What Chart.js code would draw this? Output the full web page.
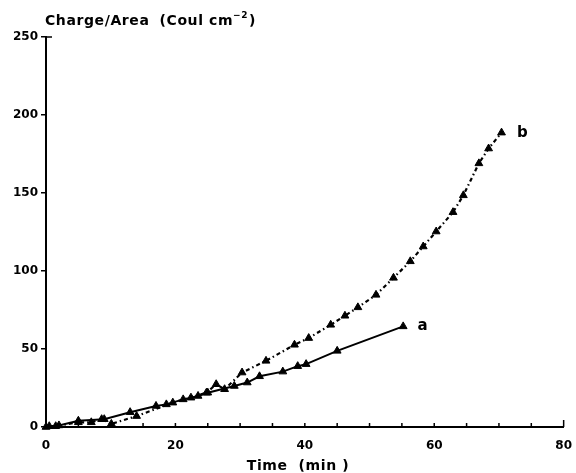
<!DOCTYPE html>
<html><head><meta charset="utf-8">
<script src="https://cdn.jsdelivr.net/npm/chart.js@4.4.1/dist/chart.umd.min.js"></script>
<style>html,body{margin:0;padding:0;background:#fff}</style>
</head><body>
<canvas id="c" width="576" height="473"></canvas>
<script>
// Series a (solid line, triangles)
const aTime   = [0.5, 2, 5, 9, 13, 17, 18.6, 21.2, 22.4, 23.5, 25, 29.1, 31.1, 33, 36.6, 38.9, 40.2, 45, 55.2];
const aCharge = [0.5, 1, 4, 5, 9.5, 13.5, 14.5, 17.7, 18.8, 19.9, 22, 26.3, 28.5, 32.5, 35.5, 39, 40.3, 48.8, 64.5];
// Series b (dash-dot line, triangles)
const bTime   = [0, 1.5, 5, 7, 8.6, 10.1, 14, 19.6, 24.8, 26.3, 27.6, 30.3, 34, 38.4, 40.6, 44, 46.2, 48.2, 51, 53.7, 56.3, 58.3, 60.3, 62.9, 64.5, 66.9, 68.4, 70.4];
const bCharge = [0, 0.5, 3, 3, 5, 2, 7, 15.6, 22, 27.4, 24.2, 34.9, 42.4, 52.7, 57, 65.5, 71.3, 76.7, 84.7, 95.6, 106.2, 115.7, 125.3, 137.7, 148.5, 169, 178.5, 188.7];
// Axis ticks
const xTicks = [0, 20, 40, 60, 80];
const yTicks = [0, 50, 100, 150, 200, 250];
const xMinorTicks = [5,10,15,20,25,30,35,40,45,50,55,60,65,70,75,80];
// Curve labels
const curveLabels = [
  {text: 'a', x: 57.4, y: 64.5},
  {text: 'b', x: 72.8, y: 188.7}
];

const FONT = 'DejaVu Sans';
const toPts = (xs, ys) => xs.map((x, i) => ({x, y: ys[i]}));

const deco = {
  id: 'deco',
  afterDraw(chart) {
    const {ctx, scales: {x, y}, chartArea: ca} = chart;
    ctx.save();
    ctx.strokeStyle = '#000';
    ctx.fillStyle = '#000';
    ctx.lineWidth = 1.5;
    ctx.beginPath();
    xMinorTicks.forEach(v => {
      const px = x.getPixelForValue(v);
      ctx.moveTo(px, ca.bottom);
      ctx.lineTo(px, ca.bottom - (v === 80 ? 7 : 4));
    });
    ctx.moveTo(ca.left, ca.top);
    ctx.lineTo(ca.left + 6, ca.top);
    ctx.stroke();

    ctx.textBaseline = 'alphabetic';
    ctx.textAlign = 'left';
    ctx.letterSpacing = '0.6px';
    ctx.font = 'bold 14px ' + FONT;
    let px = 45, base = 25;
    ctx.fillText('Charge/Area', px, base);
    px += ctx.measureText('Charge/Area').width + 10;
    ctx.fillText('(Coul cm', px, base);
    px += ctx.measureText('(Coul cm').width;
    ctx.font = 'bold 9px ' + FONT;
    ctx.fillText('\u22122', px, base - 7);
    px += ctx.measureText('\u22122').width + 1;
    ctx.font = 'bold 14px ' + FONT;
    ctx.fillText(')', px, base);

    ctx.textAlign = 'center';
    ctx.font = 'bold 14px ' + FONT;
    ctx.fillText('Time  (min )', 298, 470);

    ctx.textAlign = 'left';
    ctx.textBaseline = 'middle';
    ctx.font = 'bold 15px ' + FONT;
    curveLabels.forEach(l => {
      ctx.fillText(l.text, x.getPixelForValue(l.x), y.getPixelForValue(l.y));
    });
    ctx.restore();
  }
};

new Chart(document.getElementById('c'), {
  type: 'scatter',
  data: {
    datasets: [
      {
        label: 'a',
        data: toPts(aTime, aCharge),
        showLine: true,
        borderColor: '#000',
        backgroundColor: '#000',
        borderWidth: 2,
        pointStyle: 'triangle',
        pointRadius: 4.5,
        pointBorderWidth: 1,
        clip: false
      },
      {
        label: 'b',
        data: toPts(bTime, bCharge),
        showLine: true,
        borderColor: '#000',
        backgroundColor: '#000',
        borderWidth: 2.2,
        borderDash: [4, 3, 1.5, 3],
        pointStyle: 'triangle',
        pointRadius: 4.5,
        pointBorderWidth: 1,
        clip: false
      }
    ]
  },
  options: {
    responsive: false,
    animation: false,
    layout: {padding: {top: 37, right: 11, left: 0, bottom: 0}},
    plugins: {legend: {display: false}, tooltip: {enabled: false}, title: {display: false}},
    scales: {
      x: {
        type: 'linear', min: 0, max: 80,
        afterFit(s) { s.height = 46; },
        afterBuildTicks(s) { s.ticks = xTicks.map(v => ({value: v})); },
        ticks: {color: '#000', padding: 4, font: {family: FONT, weight: 'bold', size: 12}, maxRotation: 0},
        grid: {display: false},
        border: {display: true, color: '#000', width: 2}
      },
      y: {
        type: 'linear', min: 0, max: 250,
        afterFit(s) { s.width = 46; },
        afterBuildTicks(s) { s.ticks = yTicks.map(v => ({value: v})); },
        ticks: {color: '#000', padding: 3, font: {family: FONT, weight: 'bold', size: 12}},
        grid: {drawOnChartArea: false, tickLength: 5, color: '#000', lineWidth: 1.5},
        border: {display: true, color: '#000', width: 2}
      }
    }
  },
  plugins: [deco]
});
</script>
</body></html>
